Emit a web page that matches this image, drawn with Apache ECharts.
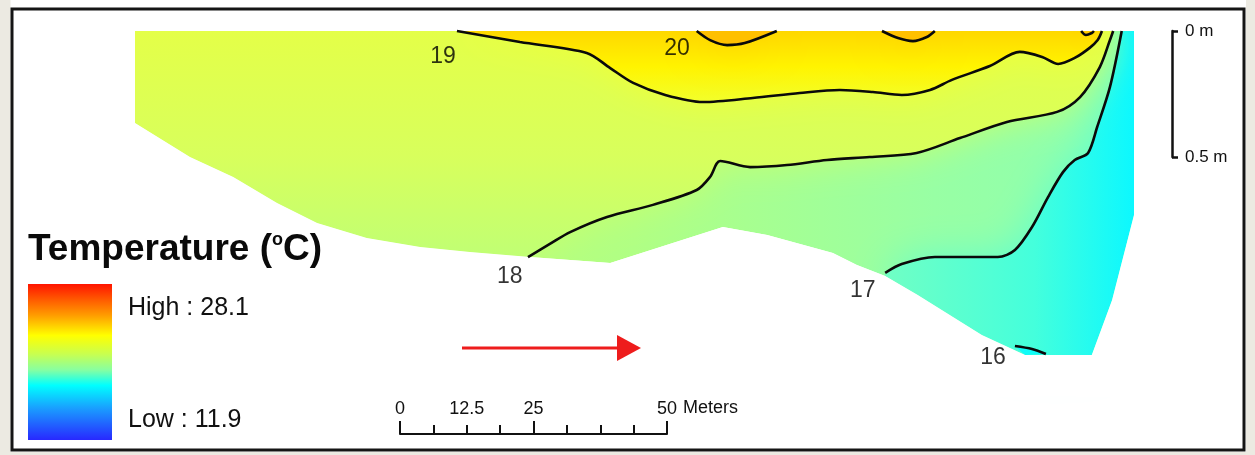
<!DOCTYPE html>
<html>
<head>
<meta charset="utf-8">
<script src="https://cdn.jsdelivr.net/npm/echarts/dist/echarts.min.js"></script>
<style>
html,body{margin:0;padding:0;background:#ffffff;}
#chart{width:1255px;height:455px;}
</style>
</head>
<body>
<div id="chart"></div>
<script>
// ---- DATA (distance along reach in metres, depth in metres) ----
const sectionOutline = [
  [0,0],[187.1,0],[187.1,0.730],[183.0,1.067],[179.2,1.286],[166.7,1.286],
  [158.6,1.206],[146.6,1.048],[140.5,0.972],[135.2,0.929],[130.7,0.881],
  [118.4,0.810],[110.1,0.778],[89.0,0.921],[81.5,0.909],[74.0,0.897],
  [62.7,0.877],[53.4,0.857],[43.4,0.821],[34.1,0.762],[26.6,0.683],
  [18.4,0.579],[10.3,0.500],[0,0.365]
];
const iso16 = [[164.8,1.250],[168.0,1.262],[170.6,1.282]];
const iso17 = [
  [140.5,0.960],[143.6,0.925],[149.8,0.897],[161.6,0.897],[164.8,0.869],
  [168.0,0.778],[171.0,0.659],[173.8,0.560],[176.0,0.512],[178.5,0.484],
  [180.2,0.381],[182.6,0.222],[184.8,0]
];
const iso18 = [
  [73.6,0.897],[77.7,0.845],[81.5,0.798],[88.4,0.738],[97.0,0.690],
  [105.2,0.631],[107.7,0.579],[109.6,0.516],[115.2,0.540],[122.1,0.532],
  [129.6,0.512],[137.6,0.500],[146.4,0.484],[154.5,0.425],[163.3,0.361],
  [172.7,0.321],[177.0,0.262],[180.7,0.143],[182.6,0.036],[183.2,0]
];
const iso19 = [
  [60.3,0],[72.1,0.044],[84.6,0.087],[89.0,0.147],[93.3,0.206],[99.3,0.254],
  [106.4,0.282],[115.7,0.266],[124.5,0.246],[132.0,0.234],[138.2,0.242],
  [143.6,0.254],[148.9,0.234],[153.0,0.194],[160.1,0.139],[165.7,0.083],
  [169.9,0.103],[172.9,0.131],[176.0,0.107],[178.8,0.067],[180.3,0.036],[181.1,0]
];
const iso20a = [[105.2,0],[107.7,0.036],[110.9,0.056],[114.2,0.048],[120.2,0]];
const iso20b = [[139.9,0],[142.9,0.028],[145.7,0.040],[148.3,0.024],[149.8,0]];
const iso20c = [[177.2,0],[178.1,0.016],[179.2,0.008],[179.6,0]];
const isoLabelText = ['19','20','18','17','16'];
const isoLabelPos = [[57.7,0.103],[101.5,0.071],[70.2,0.976],[136.3,1.032],[160.7,1.298]];
const tempHigh = 28.1;
const tempLow = 11.9;
const scaleBarTicks = [0, 12.5, 25, 50];
const scaleBarUnit = 'Meters';
const depthBarTicks = [0, 0.5];

// ---- BUILD ----
const FONT = '"Liberation Sans", Arial, sans-serif';
const G = echarts.graphic;
const chart = echarts.init(document.getElementById('chart'));

// region polygons built from the outline and isotherms
const warm18 = [sectionOutline[0]].concat(sectionOutline.slice(16).reverse(), iso18);
const cold17 = iso17.concat(sectionOutline.slice(1, 9));
const cold16 = iso16.concat([sectionOutline[5]]);
const xR = sectionOutline[1][0];
const maskBottom = [[0, 1.45]].concat(sectionOutline.slice(2).reverse(), [[xR, 1.45]]);
const maskTop = [[-40, -0.2], [240, -0.2], [240, 0], [-40, 0]];
const maskLeft = [[-40, -0.2], [0, -0.2], [0, 1.45], [-40, 1.45]];
const maskRight = [[xR, -0.2], [240, -0.2], [240, 1.45], [xR, 1.45]];

function regionSeries(points, fill, glow, blur) {
  return {
    type: 'custom', xAxisIndex: 0, yAxisIndex: 0, clip: false, silent: true,
    data: [points[0]],
    renderItem: function (params, api) {
      return {
        type: 'polygon',
        shape: { points: points.map(p => api.coord(p)) },
        style: { fill: fill, shadowBlur: blur || 0, shadowColor: glow || 'rgba(0,0,0,0)',
                 shadowOffsetX: 0, shadowOffsetY: 0 }
      };
    }
  };
}
function isoSeries(points) {
  return {
    type: 'line', xAxisIndex: 0, yAxisIndex: 0, data: points, symbol: 'none', showSymbol: false,
    smooth: 0.3, silent: true, clip: false, z: 5,
    lineStyle: { color: '#0a0a0a', width: 2.6 }
  };
}

const series = [
  regionSeries(sectionOutline, new G.LinearGradient(0, 0, 1, 0, [
    { offset: 0, color: '#caff68' }, { offset: 0.5, color: '#b0ff84' },
    { offset: 0.8, color: '#98ffa4' }, { offset: 1, color: '#8cffb0' }])),
  regionSeries(cold17, new G.LinearGradient(0, 0, 1, 0, [
    { offset: 0, color: '#70ffc4' }, { offset: 0.6, color: '#44ffdc' }, { offset: 1, color: '#0cf8ff' }]),
    '#60ffd0', 40),
  regionSeries(cold16, '#10fcf8'),
  regionSeries(warm18, new G.LinearGradient(0, 0, 0, 1, [
    { offset: 0, color: '#e4ff48' }, { offset: 0.55, color: '#d8ff5c' }, { offset: 1, color: '#c0ff74' }]),
    '#c8ff6c', 36),
  regionSeries(iso19, new G.LinearGradient(0, 0, 0, 1, [
    { offset: 0, color: '#ffd800' }, { offset: 0.5, color: '#fff400' }, { offset: 1, color: '#f2ff2c' }]),
    '#f0ff34', 32),
  regionSeries(iso20a, '#ffc000', '#ffc800', 40),
  regionSeries(iso20b, '#ffc000', '#ffc800', 40),
  regionSeries(iso20c, '#ffc800', '#ffd000', 20),
  regionSeries(maskBottom, '#ffffff'),
  regionSeries(maskTop, '#ffffff'),
  regionSeries(maskLeft, '#ffffff'),
  regionSeries(maskRight, '#ffffff'),
  isoSeries(iso16), isoSeries(iso17), isoSeries(iso18), isoSeries(iso19),
  isoSeries(iso20a), isoSeries(iso20b), isoSeries(iso20c),
  {
    type: 'scatter', xAxisIndex: 0, yAxisIndex: 0, silent: true, clip: false, z: 6,
    symbolSize: 1, itemStyle: { color: 'rgba(0,0,0,0)' },
    data: isoLabelPos.map((p, i) => ({ name: isoLabelText[i], value: p })),
    label: { show: true, position: 'inside', formatter: '{b}', fontSize: 23, fontFamily: FONT, color: '#000',
      textBorderWidth: 0 }
  },
  // dummy series to host the scale-bar axes
  { type: 'line', xAxisIndex: 1, yAxisIndex: 1, data: [], silent: true },
  { type: 'line', xAxisIndex: 2, yAxisIndex: 2, data: [], silent: true },
  { type: 'line', xAxisIndex: 3, yAxisIndex: 3, data: [], silent: true }
];

const option = {
  animation: false,
  backgroundColor: '#ffffff',
  grid: [
    { left: 135, top: 31, width: 999, height: 327.6, outerBoundsMode: 'none', containLabel: false },
    { left: 400, top: 380, width: 267, height: 54, outerBoundsMode: 'none', containLabel: false },
    { left: 400, top: 380, width: 267, height: 54, outerBoundsMode: 'none', containLabel: false },
    { left: 1172, top: 31, width: 10, height: 126, outerBoundsMode: 'none', containLabel: false }
  ],
  xAxis: [
    { gridIndex: 0, type: 'value', min: 0, max: 187.1, show: false },
    { gridIndex: 1, type: 'value', min: 0, max: 50, interval: 6.25, position: 'bottom', z: 20,
      axisLine: { show: true, lineStyle: { color: '#111', width: 2 } },
      axisTick: { show: true, inside: true, length: 9, lineStyle: { color: '#111', width: 2 } },
      axisLabel: { show: true, inside: true, margin: 16, fontSize: 18, fontFamily: FONT, color: '#111',
        hideOverlap: false, showMinLabel: true, showMaxLabel: true,
        formatter: v => scaleBarTicks.indexOf(v) >= 0 ? String(v) : '' },
      splitLine: { show: false },
      name: scaleBarUnit, nameLocation: 'end', nameGap: 16,
      nameTextStyle: { fontSize: 18, fontFamily: FONT, color: '#111', verticalAlign: 'bottom', align: 'left', padding: [0, 0, 17, 0] } },
    { gridIndex: 2, type: 'value', min: 0, max: 50, interval: 25, position: 'bottom', z: 20,
      axisLine: { show: false },
      axisTick: { show: true, inside: true, length: 13, lineStyle: { color: '#111', width: 2 } },
      axisLabel: { show: false }, splitLine: { show: false } },
    { gridIndex: 3, type: 'value', show: false }
  ],
  yAxis: [
    { gridIndex: 0, type: 'value', min: 0, max: 1.3, inverse: true, show: false },
    { gridIndex: 1, type: 'value', show: false },
    { gridIndex: 2, type: 'value', show: false },
    { gridIndex: 3, type: 'value', min: 0, max: 0.5, interval: 0.5, inverse: true, position: 'left', z: 20,
      axisLine: { show: true, lineStyle: { color: '#111', width: 2.5 } },
      axisTick: { show: true, inside: true, length: 6, lineStyle: { color: '#111', width: 2.5 } },
      axisLabel: { show: true, inside: true, margin: 13, fontSize: 17, fontFamily: FONT, color: '#111',
        showMinLabel: true, showMaxLabel: true, hideOverlap: false,
        formatter: v => depthBarTicks.indexOf(v) >= 0 ? v + ' m' : '' },
      splitLine: { show: false } }
  ],
  graphic: [
    { type: 'rect', shape: { x: 0, y: 0, width: 10.5, height: 455 }, style: { fill: '#eceae2' }, silent: true, z: 100 },
    { type: 'rect', shape: { x: 0, y: 452, width: 1255, height: 3 }, style: { fill: '#eceae2' }, silent: true, z: 100 },
    { type: 'rect', shape: { x: 1246, y: 0, width: 9, height: 455 }, style: { fill: '#eceae2' }, silent: true, z: 100 },
    { type: 'rect', shape: { x: 12, y: 9, width: 1232, height: 441 }, style: { fill: 'none', stroke: '#151515', lineWidth: 3 }, silent: true, z: 100 },
    { type: 'rect', shape: { x: 28, y: 284, width: 84, height: 156 }, silent: true, z: 100,
      style: { fill: new G.LinearGradient(0, 0, 0, 1, [
        { offset: 0, color: '#ff1400' }, { offset: 0.1, color: '#ff5a00' }, { offset: 0.2, color: '#ff9c00' },
        { offset: 0.33, color: '#ffff00' }, { offset: 0.45, color: '#c8ff50' }, { offset: 0.55, color: '#88ffa0' },
        { offset: 0.65, color: '#00ffff' }, { offset: 0.8, color: '#1a9cff' }, { offset: 1, color: '#2828ff' }]) } },
    { type: 'text', x: 28, y: 250, silent: true, z: 100,
      style: { text: '{t|Temperature (}{s|o}{t|C)}', verticalAlign: 'middle', align: 'left',
        rich: { t: { fontSize: 37, fontWeight: 'bold', fontFamily: FONT, fill: '#0a0a0a' },
                s: { fontSize: 18, fontWeight: 'bold', fontFamily: FONT, fill: '#0a0a0a', verticalAlign: 'top' } } } },
    { type: 'text', x: 128, y: 308, silent: true, z: 100,
      style: { text: 'High : ' + tempHigh, fontSize: 25, fontFamily: FONT, fill: '#111', verticalAlign: 'middle' } },
    { type: 'text', x: 128, y: 420, silent: true, z: 100,
      style: { text: 'Low : ' + tempLow, fontSize: 25, fontFamily: FONT, fill: '#111', verticalAlign: 'middle' } },
    { type: 'line', shape: { x1: 462, y1: 348, x2: 622, y2: 348 }, silent: true, z: 100,
      style: { stroke: '#ee1c1c', lineWidth: 3 } },
    { type: 'polygon', shape: { points: [[617, 335], [641, 348], [617, 361]] }, silent: true, z: 100,
      style: { fill: '#ee1c1c' } }
  ],
  series: series
};
chart.setOption(option);
</script>
</body>
</html>
